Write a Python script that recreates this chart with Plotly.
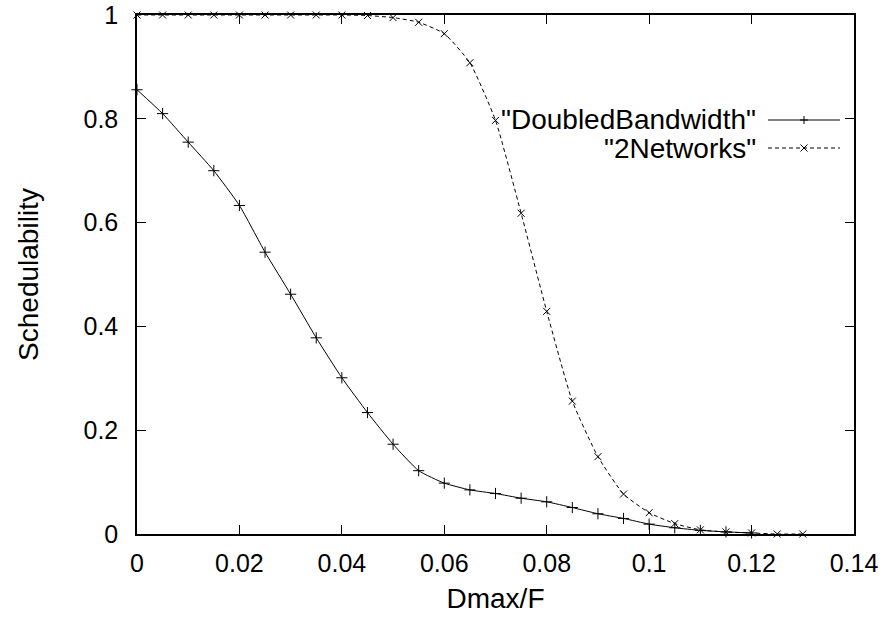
import plotly.graph_objects as go

x_db = [0.0, 0.005, 0.01, 0.015, 0.02, 0.025, 0.03, 0.035, 0.04, 0.045, 0.05,
        0.055, 0.06, 0.065, 0.07, 0.075, 0.08, 0.085, 0.09, 0.095, 0.1,
        0.105, 0.11, 0.115, 0.12]
y_db = [0.856, 0.81, 0.755, 0.70, 0.633, 0.543, 0.462, 0.378, 0.301, 0.234, 0.173,
        0.122, 0.098, 0.085, 0.078, 0.069, 0.062, 0.051, 0.039, 0.030, 0.019,
        0.012, 0.007, 0.004, 0.002]

x_2n = [0.0, 0.005, 0.01, 0.015, 0.02, 0.025, 0.03, 0.035, 0.04, 0.045, 0.05,
        0.055, 0.06, 0.065, 0.07, 0.075, 0.08, 0.085, 0.09, 0.095, 0.1,
        0.105, 0.11, 0.115, 0.12, 0.125, 0.13]
y_2n = [1.0, 1.0, 1.0, 1.0, 1.0, 1.0, 1.0, 1.0, 1.0, 0.999, 0.995,
        0.986, 0.964, 0.908, 0.797, 0.618, 0.429, 0.256, 0.149, 0.077, 0.041,
        0.020, 0.008, 0.004, 0.002, 0.0, 0.0]

names = ['"DoubledBandwidth"', '"2Networks"']
x_ticks = [0, 0.02, 0.04, 0.06, 0.08, 0.1, 0.12, 0.14]
x_ticklabels = ["0", "0.02", "0.04", "0.06", "0.08", "0.1", "0.12", "0.14"]
y_ticks = [0, 0.2, 0.4, 0.6, 0.8, 1]
y_ticklabels = ["0", "0.2", "0.4", "0.6", "0.8", "1"]

FONT = "Liberation Sans, Arial, sans-serif"
FS = 25
FT = 28

fig = go.Figure()
fig.add_trace(go.Scatter(
    x=x_db, y=y_db, mode="lines+markers", name=names[0],
    line=dict(color="black", width=1, shape="spline", smoothing=0.5),
    marker=dict(symbol="cross-thin-open", size=8, color="black",
                line=dict(width=1, color="black")),
    showlegend=False, cliponaxis=False))
fig.add_trace(go.Scatter(
    x=x_2n, y=y_2n, mode="lines+markers", name=names[1],
    line=dict(color="black", width=1, dash="4px,3px", shape="spline", smoothing=0.5),
    marker=dict(symbol="x-thin-open", size=7, color="black",
                line=dict(width=1, color="black")),
    showlegend=False, cliponaxis=False))

# manual gnuplot-style key (text left, sample right)
L, R, T, B = 137, 34, 15, 85
W = 888 - L - R
H = 619 - T - B
def px(dx):
    return dx / W
def py(dy):
    return dy / H

key_text_x = (757 - L) / W
key_x0, key_x1 = (768 - L) / W, (840 - L) / W
key_mid = (key_x0 + key_x1) / 2
key_ys = [(619 - B - 120) / H, (619 - B - 148) / H]

shapes = []
annotations = []
for i, (nm, ky) in enumerate(zip(names, key_ys)):
    annotations.append(dict(xref="paper", yref="paper", x=key_text_x, y=ky,
                            text=nm, showarrow=False, xanchor="right", yanchor="middle",
                            borderpad=0,
                            font=dict(family=FONT, size=FT, color="black")))
    shapes.append(dict(type="line", xref="paper", yref="paper",
                       x0=key_x0, x1=key_x1, y0=ky, y1=ky,
                       line=dict(color="black", width=1,
                                 dash="solid" if i == 0 else "4px,3px")))
    if i == 0:
        shapes.append(dict(type="line", xref="paper", yref="paper",
                           x0=key_mid - px(4), x1=key_mid + px(4), y0=ky, y1=ky,
                           line=dict(color="black", width=1)))
        shapes.append(dict(type="line", xref="paper", yref="paper",
                           x0=key_mid, x1=key_mid, y0=ky - py(4), y1=ky + py(4),
                           line=dict(color="black", width=1)))
    else:
        shapes.append(dict(type="line", xref="paper", yref="paper",
                           x0=key_mid - px(3.5), x1=key_mid + px(3.5),
                           y0=ky - py(3.5), y1=ky + py(3.5),
                           line=dict(color="black", width=1)))
        shapes.append(dict(type="line", xref="paper", yref="paper",
                           x0=key_mid - px(3.5), x1=key_mid + px(3.5),
                           y0=ky + py(3.5), y1=ky - py(3.5),
                           line=dict(color="black", width=1)))

fig.update_layout(
    width=888, height=619,
    margin=dict(l=L, r=R, t=T, b=B),
    paper_bgcolor="white", plot_bgcolor="white",
    font=dict(family=FONT, size=FS, color="black"),
    shapes=shapes, annotations=annotations,
    showlegend=False,
)
fig.update_xaxes(
    range=[0, 0.14], tickvals=x_ticks, ticktext=x_ticklabels, automargin=False,
    showgrid=False, zeroline=False, showline=True, linecolor="black", linewidth=1.5,
    mirror="allticks", ticks="inside", ticklen=9, tickwidth=1, tickcolor="black",
    title=dict(text="Dmax/F", font=dict(family=FONT, size=FT), standoff=13),
    tickfont=dict(family=FONT, size=FS), ticklabelstandoff=6,
)
fig.update_yaxes(
    range=[0, 1], tickvals=y_ticks, ticktext=y_ticklabels, automargin=False,
    showgrid=False, zeroline=False, showline=True, linecolor="black", linewidth=1.5,
    mirror="allticks", ticks="inside", ticklen=9, tickwidth=1, tickcolor="black",
    title=dict(text="Schedulability", font=dict(family=FONT, size=FT), standoff=37),
    tickfont=dict(family=FONT, size=FS), ticklabelstandoff=12,
)

fig.write_html("out.html")
